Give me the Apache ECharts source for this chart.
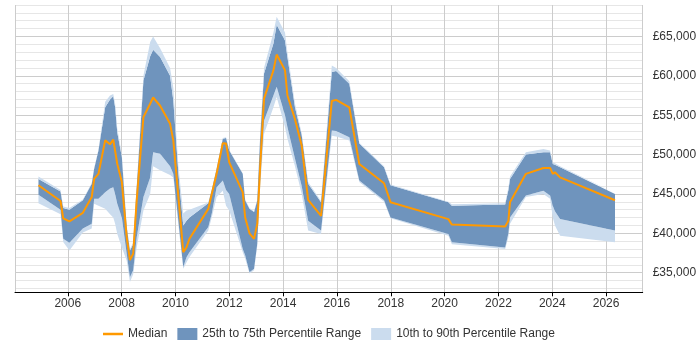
<!DOCTYPE html>
<html><head><meta charset="utf-8">
<script src="https://cdn.jsdelivr.net/npm/echarts@6/dist/echarts.min.js"></script>
<style>html,body{margin:0;padding:0;background:#fff}#c{width:700px;height:350px}</style>
</head><body><div id="c"></div>
<script>
// decimal years of each sample
const years = [
  2004.91, 2005.73, 2005.83, 2006.06, 2006.56, 2006.89, 2006.98, 2007.14, 2007.39, 2007.57,
  2007.69, 2007.76, 2007.84, 2008.01, 2008.19, 2008.31, 2008.43, 2008.56, 2008.81, 2009.06,
  2009.17, 2009.43, 2009.80, 2009.92, 2010.11, 2010.29, 2010.41, 2010.52, 2011.22, 2011.35,
  2011.53, 2011.76, 2011.88, 2012.00, 2012.50, 2012.59, 2012.75, 2012.92, 2013.04, 2013.14,
  2013.29, 2013.64, 2013.76, 2014.07, 2014.16, 2014.44, 2014.69, 2014.93, 2015.41, 2015.81,
  2015.97, 2016.46, 2016.83, 2017.75, 2017.99, 2020.14, 2020.27, 2022.25, 2022.37, 2022.43,
  2023.02, 2023.67, 2023.92, 2024.02, 2024.10, 2024.29, 2026.33
];
const median = [
  46100, 44100, 41900, 41500, 42600, 44600, 46900, 47550, 51800, 51300,
  51900, 51700, 48800, 46500, 39500, 36600, 37400, 44200, 54750, 56450,
  57250, 56200, 53900, 51800, 44600, 37600, 38200, 39300, 43100, 45000,
  47550, 51450, 51400, 49000, 45200, 42000, 40000, 39300, 41200, 48000,
  57100, 60700, 62700, 60700, 57500, 54500, 51150, 44250, 42200, 56800,
  56950, 56000, 48800, 46350, 43950, 41800, 41100, 40850, 41600, 43950,
  47550, 48300, 48300, 47550, 47750, 47100, 44200
];
const p75 = [
  46900, 45300, 43200, 43000, 44200, 46300, 48200, 50500, 56000, 57000,
  57400, 56000, 52800, 49700, 40800, 37800, 38600, 45850, 59400, 62500,
  63300, 62400, 60000, 56900, 47600, 41000, 41600, 42000, 43800, 45500,
  48200, 52000, 52100, 50500, 47550, 44200, 43100, 42700, 44200, 51800,
  60300, 64100, 66500, 64500, 62400, 56000, 52500, 46300, 43950, 60500,
  60600, 59000, 51400, 48400, 46100, 43950, 43500, 43650, 45500, 46900,
  50000, 50300, 50300, 48800, 48700, 48400, 45000
];
const p25 = [
  44900, 43000, 39300, 38800, 40600, 41200, 44400, 44400, 45200, 45700,
  45850, 45000, 43750, 42000, 37400, 34400, 35300, 39500, 44600, 47100,
  50300, 50100, 48500, 47550, 41500, 35700, 36950, 37600, 40800, 42500,
  45850, 46700, 45500, 45000, 38000, 37200, 35050, 35500, 38700, 46500,
  54300, 57500, 58600, 55000, 53500, 49500, 46000, 41600, 40350, 53050,
  53000, 52200, 46700, 44200, 42000, 39900, 38850, 38200, 40000, 42000,
  44800, 45400, 44800, 43500, 42800, 41800, 40350
];
const p10 = [
  43800, 42400, 38900, 37800, 40100, 40600, 43750, 43500, 43100, 42400,
  42000, 41200, 39900, 38200, 36500, 33800, 34800, 38200, 42900, 45000,
  48500, 48000, 47400, 47100, 41000, 35500, 36300, 37000, 40350, 42000,
  44600, 45400, 43500, 42900, 37600, 36800, 34900, 35300, 38400, 45500,
  52600, 56000, 57300, 53500, 52000, 48500, 45000, 40350, 39900, 52400,
  52300, 51800, 46500, 44000, 41900, 39700, 38600, 38000, 39500, 41200,
  44600, 45000, 44400, 42000, 41000, 39700, 38850
];
const p90 = [
  47200, 45500, 43400, 43200, 44300, 46400, 48300, 50600, 56700, 57500,
  57700, 56500, 53300, 50000, 41000, 38000, 38800, 46000, 60000, 64300,
  65000, 63500, 61000, 58500, 48500, 42500, 42900, 43000, 43900, 45600,
  48300, 52100, 52200, 50600, 47600, 44300, 43200, 42800, 44300, 52000,
  61000, 65500, 67500, 65500, 63000, 56500, 52700, 46500, 44100, 61300,
  61000, 59300, 51500, 48500, 46200, 44000, 43700, 43800, 45800, 47200,
  50300, 50700, 50500, 49000, 48900, 48500, 45100
];
const xTickYears = [2006, 2008, 2010, 2012, 2014, 2016, 2018, 2020, 2022, 2024, 2026];
const yTickValues = [35000, 40000, 45000, 50000, 55000, 60000, 65000];
const seriesNames = ['Median', '25th to 75th Percentile Range', '10th to 90th Percentile Range'];

const DARK = '#6f94bd', LIGHT = '#cbdcee', ORANGE = '#ff9900';
const FONT = '"Liberation Sans", Arial, sans-serif';

function toTs(y) {
  const f = Math.floor(y);
  const a = Date.UTC(f, 0, 1), b = Date.UTC(f + 1, 0, 1);
  return a + (y - f) * (b - a);
}
const xs = years.map(toTs);
const pair = arr => arr.map((v, i) => [xs[i], v]);
const diff = (hi, lo) => hi.map((v, i) => [xs[i], v - lo[i]]);

// split-line colours for the 1000-step grid (min tick hidden, majors darker)
const yLineColors = [];
for (let v = 32000; v <= 69000; v += 1000) {
  yLineColors.push(v === 32000 ? 'rgba(0,0,0,0)' : (v % 5000 === 0 ? '#cccccc' : '#e6e6e6'));
}
const TWO_YEARS = 2 * 365.25 * 86400000;

const chart = echarts.init(document.getElementById('c'), null, {renderer: 'canvas'});
const areaSeries = (name, data, color) => ({
  name, type: 'line', stack: 'band', data, symbol: 'none', showSymbol: false,
  color, itemStyle: {color},
  lineStyle: {width: 0, opacity: 0},
  areaStyle: {color, opacity: 1},
  xAxisIndex: 0, yAxisIndex: 0, silent: true, z: 2
});
chart.setOption({
  animation: false,
  useUTC: true,
  textStyle: {fontFamily: FONT},
  grid: [
    {left: 15, right: 57.3, top: 5, bottom: 57.7},
    {left: 15, right: 57.3, top: 5, bottom: 53.76}
  ],
  legend: {
    left: 98, top: 323, itemWidth: 20, itemHeight: 12, itemGap: 10,
    symbolKeepAspect: true,
    textStyle: {fontSize: 12, color: '#333', fontFamily: FONT},
    data: [
      {name: seriesNames[0], icon: 'path://M0,0H20V2.5H0Z', itemStyle: {color: ORANGE}},
      {name: seriesNames[1], icon: 'rect'},
      {name: seriesNames[2], icon: 'rect'}
    ]
  },
  xAxis: [
    {
      gridIndex: 0, type: 'time',
      min: toTs(2004.04), max: toTs(2027.36),
      minInterval: TWO_YEARS, maxInterval: TWO_YEARS, splitNumber: 12,
      axisLine: {lineStyle: {color: '#000', width: 1}},
      axisTick: {show: true, length: 4, lineStyle: {color: '#000'}},
      axisLabel: {
        color: '#333', fontSize: 12, margin: 5, fontFamily: FONT,
        formatter: v => {
          const y = new Date(v).getUTCFullYear();
          return xTickYears.indexOf(y) >= 0 ? String(y) : '';
        }
      },
      splitLine: {show: true, lineStyle: {color: '#cccccc', width: 1}}
    },
    {gridIndex: 1, type: 'value', show: false, min: 0, max: 1}
  ],
  yAxis: [
    {gridIndex: 0, type: 'value', min: 32500, max: 69000, show: false, splitLine: {show: false}},
    {
      gridIndex: 1, type: 'value', position: 'right', min: 32000, max: 69000, interval: 1000,
      axisLine: {show: false}, axisTick: {show: false},
      axisLabel: {
        margin: 10, color: '#333', fontSize: 12, fontFamily: FONT,
        formatter: v => yTickValues.indexOf(v) >= 0 ? '£' + v.toLocaleString('en-GB') : ''
      },
      splitLine: {show: true, lineStyle: {color: yLineColors, width: 1}}
    }
  ],
  series: [
    {
      name: '_base', type: 'line', stack: 'band', data: pair(p10), symbol: 'none',
      lineStyle: {width: 0, opacity: 0}, xAxisIndex: 0, yAxisIndex: 0, silent: true
    },
    areaSeries(seriesNames[2], diff(p25, p10), LIGHT),
    areaSeries(seriesNames[1], diff(p75, p25), DARK),
    areaSeries(seriesNames[2], diff(p90, p75), LIGHT),
    {
      name: seriesNames[0], type: 'line', data: pair(median), symbol: 'none',
      color: ORANGE, lineStyle: {color: ORANGE, width: 2}, itemStyle: {color: ORANGE},
      xAxisIndex: 0, yAxisIndex: 0, z: 5
    }
  ]
});
</script>
</body></html>
